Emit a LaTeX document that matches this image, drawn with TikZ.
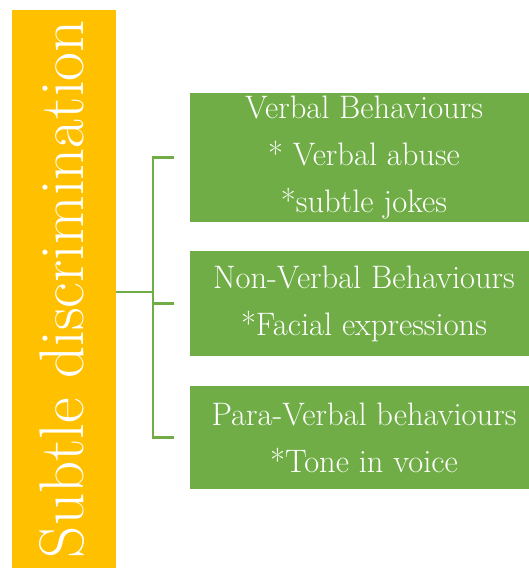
\documentclass[tikz,border=0pt]{standalone}
\definecolor{barorange}{HTML}{FFC000}
\definecolor{boxgreen}{HTML}{70AD47}
\begin{document}
\begin{tikzpicture}[x=1pt,y=-1pt,
  catbox/.style={fill=boxgreen, draw=none, text=white, align=center,
    minimum width=348pt, inner sep=0pt, font=\fontsize{32.5}{47}\selectfont},
  link/.style={draw=boxgreen, line width=2.5pt}]
\useasboundingbox (0,0) rectangle (529,568);
\fill[barorange] (12,10) rectangle (116,568);
\coordinate (barE) at (116,292);
\node[rotate=90, anchor=base, text=white, inner sep=0pt,
  font=\fontsize{63}{70}\selectfont] (root) at (83,289) {Subtle discrimination};
\node[catbox, minimum height=129pt] (b1) at (364,157.5)
  {Verbal Behaviours\\* Verbal abuse\\*subtle jokes};
\node[catbox, minimum height=105pt] (b2) at (364,303.5)
  {Non-Verbal Behaviours\\*Facial expressions};
\node[catbox, minimum height=103pt] (b3) at (364,437.5)
  {Para-Verbal behaviours\\*Tone in voice};
\coordinate (j) at (153,292);
\draw[link] (barE) -- (j);
\draw[link] (j) |- ([xshift=-16pt]b1.west);
\draw[link] (j) |- ([xshift=-16pt]b2.west);
\draw[link] (j) |- ([xshift=-16pt]b3.west);
\end{tikzpicture}
\end{document}
